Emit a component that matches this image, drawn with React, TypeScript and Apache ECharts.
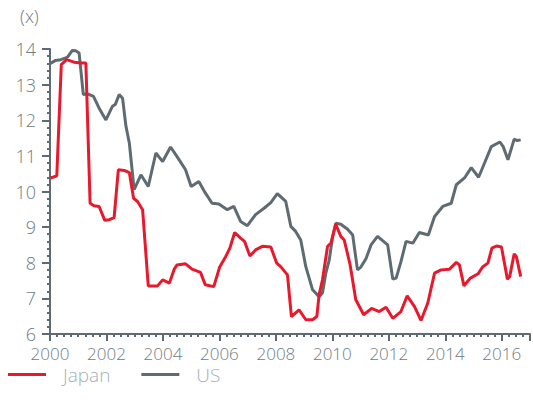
import React, { useEffect, useRef } from "react";
import * as echarts from "echarts";

const usDates = [2000.0, 2000.2, 2000.38, 2000.56, 2000.64, 2000.79, 2000.91, 2001.03, 2001.18, 2001.33, 2001.54, 2001.74, 2001.98, 2002.21, 2002.31, 2002.45, 2002.57, 2002.69, 2002.81, 2002.98, 2003.22, 2003.48, 2003.75, 2003.99, 2004.27, 2004.5, 2004.8, 2005.0, 2005.27, 2005.5, 2005.74, 2005.98, 2006.28, 2006.51, 2006.75, 2006.99, 2007.28, 2007.58, 2007.82, 2008.05, 2008.35, 2008.53, 2008.7, 2008.88, 2009.06, 2009.3, 2009.53, 2009.65, 2009.77, 2009.89, 2010.0, 2010.12, 2010.3, 2010.54, 2010.72, 2010.89, 2011.01, 2011.19, 2011.37, 2011.6, 2011.96, 2012.14, 2012.26, 2012.43, 2012.61, 2012.85, 2013.08, 2013.4, 2013.62, 2013.91, 2014.21, 2014.39, 2014.68, 2014.92, 2015.18, 2015.39, 2015.63, 2015.93, 2016.05, 2016.22, 2016.44, 2016.55, 2016.67];
const usValues = [13.59, 13.68, 13.7, 13.75, 13.79, 13.96, 13.95, 13.89, 12.72, 12.74, 12.67, 12.34, 12.01, 12.39, 12.44, 12.72, 12.62, 11.83, 11.36, 10.05, 10.47, 10.14, 11.08, 10.84, 11.25, 10.98, 10.61, 10.14, 10.28, 9.96, 9.67, 9.65, 9.49, 9.58, 9.16, 9.04, 9.35, 9.53, 9.69, 9.94, 9.72, 9.02, 8.88, 8.64, 7.89, 7.24, 7.05, 7.15, 7.71, 8.08, 8.69, 9.11, 9.08, 8.94, 8.78, 7.8, 7.88, 8.11, 8.5, 8.74, 8.5, 7.54, 7.57, 8.03, 8.6, 8.55, 8.85, 8.78, 9.3, 9.58, 9.67, 10.19, 10.38, 10.67, 10.4, 10.8, 11.26, 11.39, 11.26, 10.89, 11.47, 11.43, 11.45];

const jpDates = [2000.02, 2000.24, 2000.4, 2000.59, 2000.85, 2001.09, 2001.27, 2001.42, 2001.56, 2001.74, 2001.94, 2002.1, 2002.27, 2002.42, 2002.63, 2002.81, 2002.96, 2003.1, 2003.28, 2003.48, 2003.81, 2003.99, 2004.23, 2004.4, 2004.5, 2004.8, 2005.03, 2005.33, 2005.5, 2005.8, 2006.01, 2006.22, 2006.37, 2006.54, 2006.75, 2006.89, 2007.08, 2007.28, 2007.52, 2007.82, 2008.03, 2008.17, 2008.41, 2008.55, 2008.82, 2009.06, 2009.3, 2009.45, 2009.53, 2009.65, 2009.83, 2009.95, 2010.12, 2010.3, 2010.42, 2010.63, 2010.83, 2011.11, 2011.39, 2011.66, 2011.9, 2012.14, 2012.43, 2012.65, 2012.91, 2013.14, 2013.38, 2013.62, 2013.85, 2014.15, 2014.39, 2014.5, 2014.66, 2014.89, 2015.16, 2015.33, 2015.51, 2015.65, 2015.81, 2015.99, 2016.2, 2016.28, 2016.44, 2016.52, 2016.67];
const jpValues = [10.38, 10.44, 13.56, 13.7, 13.63, 13.61, 13.61, 9.67, 9.6, 9.58, 9.19, 9.21, 9.27, 10.61, 10.59, 10.53, 9.81, 9.72, 9.49, 7.35, 7.35, 7.52, 7.43, 7.82, 7.94, 7.97, 7.82, 7.73, 7.38, 7.33, 7.88, 8.17, 8.41, 8.85, 8.69, 8.6, 8.19, 8.36, 8.46, 8.44, 7.99, 7.89, 7.66, 6.49, 6.68, 6.4, 6.4, 6.49, 7.1, 7.52, 8.46, 8.55, 9.08, 8.74, 8.64, 7.94, 6.96, 6.54, 6.72, 6.63, 6.75, 6.44, 6.63, 7.07, 6.77, 6.38, 6.87, 7.71, 7.8, 7.82, 8.01, 7.94, 7.35, 7.57, 7.69, 7.89, 7.99, 8.41, 8.47, 8.44, 7.54, 7.61, 8.25, 8.17, 7.61];

const seriesNames = ["Japan", "US"];
const unitLabel = "(x)";

const RED = "#e8192c";
const GRAY = "#5f6b72";
const LABEL = "#6f7b84";
const FONT = "'Open Sans', 'Noto Sans', sans-serif";

export default function App() {
  const ref = useRef<HTMLDivElement>(null);
  useEffect(() => {
    if (!ref.current) return;
    const chart = echarts.init(ref.current, null, { renderer: "svg" });
    const usData = usDates.map((d, i) => [d, usValues[i]]);
    const jpData = jpDates.map((d, i) => [d, jpValues[i]]);
    chart.setOption({
      animation: false,
      backgroundColor: "#ffffff",
      grid: { left: 50, right: 3, top: 49, bottom: 77, containLabel: false },
      graphic: [
        {
          type: "text",
          left: 20,
          top: 7,
          style: { text: unitLabel, fill: LABEL, font: `300 18px ${FONT}` },
        },
      ],
      legend: {
        data: seriesNames,
        left: 8,
        top: 365,
        padding: 0,
        icon: "rect",
        itemWidth: 38,
        itemHeight: 3,
        itemGap: 31,
        textStyle: {
          color: "#a6afb6",
          fontSize: 19,
          lineHeight: 18,
          fontFamily: FONT,
          fontWeight: 300,
          padding: [0, 0, 0, 12],
        },
      },
      xAxis: {
        type: "value",
        min: 2000,
        max: 2017,
        interval: 2,
        splitLine: { show: false },
        axisLine: { show: true, lineStyle: { color: GRAY, width: 2 } },
        axisTick: { show: true, length: 7, lineStyle: { color: GRAY, width: 2 } },
        minorTick: { show: true, splitNumber: 8, length: 3, lineStyle: { color: GRAY, width: 2 } },
        axisLabel: {
          color: LABEL,
          fontSize: 17,
          lineHeight: 16,
          fontFamily: FONT,
          fontWeight: 300,
          margin: 11,
          showMaxLabel: false,
          formatter: (v: number) => String(v),
        },
      },
      yAxis: {
        type: "value",
        min: 6,
        max: 14,
        interval: 1,
        splitLine: { show: false },
        axisLine: { show: true, lineStyle: { color: GRAY, width: 2 } },
        axisTick: { show: true, length: 8, lineStyle: { color: GRAY, width: 2 } },
        minorTick: { show: true, splitNumber: 5, length: 3, lineStyle: { color: GRAY, width: 2 } },
        axisLabel: {
          color: LABEL,
          fontSize: 18,
          fontFamily: FONT,
          fontWeight: 300,
          margin: 14,
        },
      },
      series: [
        {
          name: "US",
          type: "line",
          data: usData,
          showSymbol: false,
          symbol: "none",
          lineStyle: { color: GRAY, width: 3 },
          itemStyle: { color: GRAY },
        },
        {
          name: "Japan",
          type: "line",
          data: jpData,
          showSymbol: false,
          symbol: "none",
          lineStyle: { color: RED, width: 3 },
          itemStyle: { color: RED },
        },
      ],
    });
    return () => chart.dispose();
  }, []);
  return (
    <div
      ref={ref}
      style={{ position: "absolute", left: 0, top: 0, width: 533, height: 411 }}
    />
  );
}
